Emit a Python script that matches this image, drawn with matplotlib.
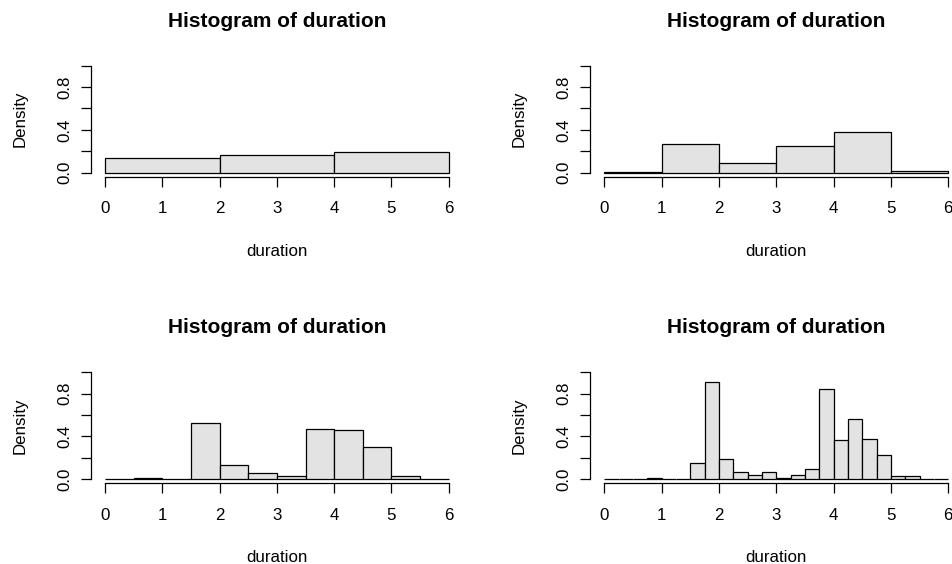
import numpy as np
import matplotlib
matplotlib.use("Agg")
import matplotlib.pyplot as plt

# densitas histogram durasi untuk empat pilihan lebar bin
breaks_1 = [0, 2, 4, 6]
density_1 = [0.134, 0.169, 0.197]

breaks_2 = [0, 1, 2, 3, 4, 5, 6]
density_2 = [0.0033, 0.264, 0.090, 0.247, 0.381, 0.0134]

breaks_3 = [0, 0.5, 1, 1.5, 2, 2.5, 3, 3.5, 4, 4.5, 5, 5.5, 6]
density_3 = [0, 0.0067, 0, 0.528, 0.127, 0.054, 0.027, 0.468, 0.462, 0.301, 0.027, 0]

breaks_4 = np.arange(0, 6.25, 0.25)
density_4 = [0, 0, 0, 0.0134, 0, 0, 0.147, 0.910, 0.187, 0.067, 0.040, 0.067,
             0.013, 0.040, 0.094, 0.843, 0.361, 0.562, 0.375, 0.227, 0.027, 0.027, 0, 0]

x_ticks = [0, 1, 2, 3, 4, 5, 6]
y_ticks = [0.0, 0.2, 0.4, 0.6, 0.8, 1.0]
y_labels = ["0.0", "", "0.4", "", "0.8", ""]

plt.rcParams["font.family"] = ["Liberation Sans", "DejaVu Sans"]

W, H = 953, 564
fig = plt.figure(figsize=(W / 100, H / 100), dpi=100)

# posisi area plot (piksel): kiri, atas, kanan, bawah
boxes = [
    (91.25, 61.4, 462.5, 177.0),
    (590.5, 61.4, 962.0, 177.0),
    (91.25, 368.0, 462.5, 483.3),
    (590.5, 368.0, 962.0, 483.3),
]
panels = [(breaks_1, density_1), (breaks_2, density_2),
          (breaks_3, density_3), (breaks_4, density_4)]

for (l, t, r, b), (brk, dens) in zip(boxes, panels):
    ax = fig.add_axes([l / W, 1 - b / H, (r - l) / W, (b - t) / H])
    brk = np.asarray(brk, dtype=float)
    widths = np.diff(brk)
    ax.bar(brk[:-1], dens, width=widths, align="edge", color="#E3E3E3",
           edgecolor="black", linewidth=0.9)

    ax.set_xlim(-0.24, 6.24)
    ax.set_ylim(-0.04, 1.04)
    for side in ["top", "right"]:
        ax.spines[side].set_visible(False)
    ax.spines["left"].set_bounds(0, 1)
    ax.spines["bottom"].set_bounds(0, 6)
    ax.spines["left"].set_linewidth(0.9)
    ax.spines["bottom"].set_linewidth(0.9)

    ax.set_xticks(x_ticks)
    ax.set_yticks(y_ticks)
    ax.set_yticklabels(y_labels)
    ax.tick_params(axis="both", length=7.5, width=0.9, labelsize=12.2)
    ax.tick_params(axis="x", pad=10)
    ax.tick_params(axis="y", pad=6, labelrotation=90)
    for lab in ax.get_yticklabels():
        lab.set_va("center")

    hpx = b - t
    wpx = r - l
    ax.text(0.5, 1 + 34.7 / hpx, "Histogram of duration", transform=ax.transAxes,
            ha="center", va="baseline", fontsize=15, fontweight="bold")
    ax.text(0.5, -79 / hpx, "duration", transform=ax.transAxes,
            ha="center", va="baseline", fontsize=12.2)
    ax.text(-71.5 / wpx, 0.5, "Density", transform=ax.transAxes,
            ha="center", va="center", rotation=90, fontsize=12.2)

plt.savefig("out.png", dpi=100)
plt.close()
